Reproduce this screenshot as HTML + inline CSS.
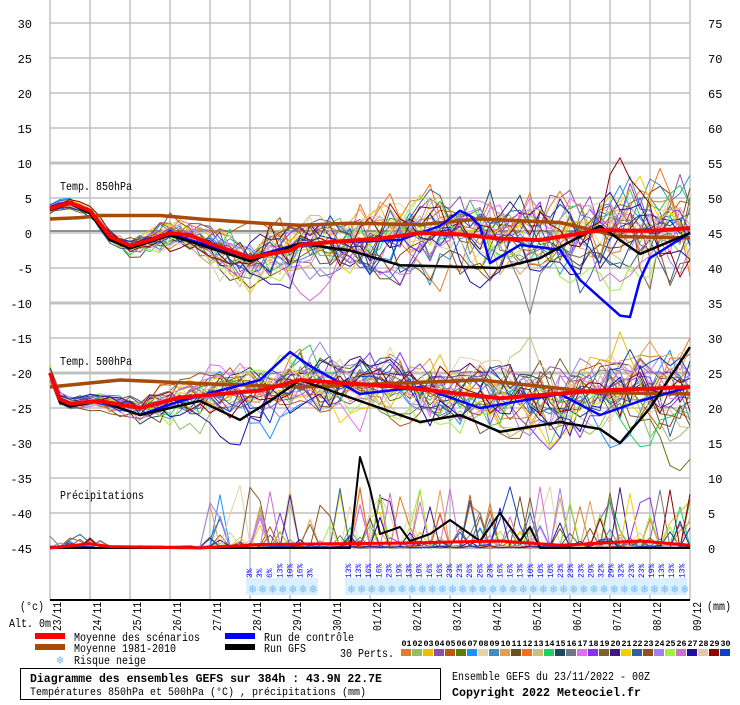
<!DOCTYPE html>
<html><head><meta charset="utf-8"><style>
body{margin:0;background:#fff;width:740px;height:700px;overflow:hidden;font-family:"Liberation Mono",monospace}
svg text{font-family:"Liberation Mono","DejaVu Sans Mono",monospace}
</style></head><body>
<svg id="s" width="740" height="700" xmlns="http://www.w3.org/2000/svg">
<rect width="740" height="700" fill="#fff"/>
<g id="grid"></g>
<g id="series"></g>
<g id="fg"></g>
</svg>
<script>
var NS="http://www.w3.org/2000/svg";
function el(p,t,a,txt){var e=document.createElementNS(NS,t);for(var k in a)e.setAttribute(k,a[k]);if(txt!=null)e.textContent=txt;p.appendChild(e);return e;}
var G=document.getElementById('grid'),S=document.getElementById('series'),F=document.getElementById('fg');
function T(x,y,fs,s,cw,extra){var a={x:x,y:y,'font-size':fs,textLength:(s.length*cw).toFixed(1),lengthAdjust:'spacingAndGlyphs'};for(var k in extra)a[k]=extra[k];return el(F,'text',a,s);}
for(var i=0;i<=16;i++){var x=50+i*40;el(G,'line',{x1:x,y1:0,x2:x,y2:600,stroke:'#c0c0c0','stroke-width':1.5});}
for(var j=0;j<=15;j++){var y=23+j*35;var v=30-5*j;var thick=(v==10||v==-10||v==-20);el(G,'line',{x1:50,y1:y,x2:690,y2:y,stroke:'#c0c0c0','stroke-width':thick?3:1.5});
 el(F,'text',{x:32,y:y+5,'font-size':12,'text-anchor':'end'},String(v));
 el(F,'text',{x:708,y:y+5,'font-size':12},String(75-5*j));}
el(G,'line',{x1:50,y1:231,x2:690,y2:231,stroke:'#909090','stroke-width':2});
el(G,'line',{x1:50,y1:600,x2:690,y2:600,stroke:'#000','stroke-width':2});
var seed=12345;function R(){seed=(seed*1103515245+12345)%2147483648;return seed/2147483648;}
function N(){return (R()+R()+R()+R()-2)*1.2;}
function interp(k,x){for(var i=0;i<k.length-1;i++){if(x<=k[i+1][0]){var t=(x-k[i][0])/(k[i+1][0]-k[i][0]);return k[i][1]+t*(k[i+1][1]-k[i][1]);}}return k[k.length-1][1];}
function Y(v){return 233-7*v;}
var xs=[];for(var i=0;i<=64;i++)xs.push(50+i*10);
function path(vals,col,w){var d='';for(var i=0;i<xs.length;i++){d+=(i?'L':'M')+xs[i]+','+Y(vals[i]).toFixed(1);}
 return el(S,'path',{d:d,stroke:col,'stroke-width':w,fill:'none','stroke-linejoin':'round'});}
var cols=["#e07b30","#8fbe63","#e8c000","#8a4fa8","#b85a10","#5a7d10","#1e90ff","#e8d0a8","#3a8ec0","#e0a050","#6b5020","#f07020","#c8c080","#20d060","#204860","#707880","#e070f0","#8a30f0","#806030","#401880","#f0d000","#3060a0","#905020","#a080f0","#a0f040","#d070d0","#2010a0","#e0c8a8","#900000","#1040c0"];
var m850=[[50,3.5],[70,4.3],[90,3.2],[110,-0.5],[130,-1.8],[150,-1],[170,0],[190,-0.3],[210,-1.5],[250,-3.5],[290,-2.5],[300,-1.7],[330,-1.3],[380,-0.8],[420,0],[460,-0.2],[500,-0.8],[540,-1],[600,0.4],[650,0.3],[690,0.7]];
var c850=[[50,2],[80,2.2],[100,2.5],[160,2.5],[200,2],[250,1.5],[300,1.1],[350,1.4],[420,1.2],[480,2],[560,1.5],[620,-0.5],[690,-0.7]];
var m500=[[50,-20],[62,-24.5],[100,-24],[140,-25],[180,-23.5],[260,-22.5],[300,-21],[400,-22],[500,-23.6],[600,-22.5],[690,-22]];
var c500=[[50,-22],[120,-21],[200,-21.5],[300,-22],[480,-21],[600,-22.8],[690,-23]];
function amp850(x){return x<100?0.6:x<250?0.6+(x-100)/150*2.6:3.2+(x-250)/440*2.4;}
function amp500(x){return x<100?0.8:x<250?0.8+(x-100)/150*2.4:3.2+(x-250)/440*1.8;}
for(var m=0;m<30;m++){
 var a=[],b=[],p=[],d1=N()*0.3,d2=N()*0.3;
 for(var i=0;i<xs.length;i++){var x=xs[i];
  d1=d1*0.72+N()*0.7*amp850(x);d2=d2*0.72+N()*0.7*amp500(x);
  a.push(interp(m850,x)+d1);b.push(interp(m500,x)+d2);
  var pv=0;if(x>=210&&R()<0.18)pv=Math.pow(R(),2)*9; else if(x>=50&&x<110&&R()<0.12)pv=R()*2; else pv=R()*0.3;
  p.push(pv-45);}
 path(p,cols[m],1);path(a,cols[m],1);path(b,cols[m],1);
}
function build(k){return xs.map(function(x){return interp(k,x);});}
path(build(c850),'#a84a08',3.5);path(build(c500),'#a84a08',3.5);
path(build([[50,3.5],[70,4.3],[90,3],[110,-0.5],[130,-2],[170,-0.2],[250,-3.5],[300,-1.5],[400,-1],[440,1],[463,3.5],[480,1],[490,-4.3],[520,-1.7],[560,-2.4],[580,-6.7],[620,-11.8],[630,-12],[645,-4],[690,0]]),'#0000ff',2.5);
path(build([[50,-20],[62,-25],[100,-24],[140,-26],[180,-24],[260,-21],[290,-17],[310,-19],[360,-23],[420,-22],[480,-25],[520,-24],[560,-23],[600,-26],[640,-24],[690,-22]]),'#0000ff',2.5);
path(build([[50,3.3],[70,4.2],[90,2.8],[110,-1],[130,-2.2],[170,-0.3],[250,-4],[300,-1.5],[350,-2.5],[400,-4.6],[450,-4.8],[500,-5],[540,-3.6],[560,-2],[600,1],[640,-3],[690,0]]),'#000',2.5);
path(build([[50,-20],[62,-25],[100,-24],[140,-26],[200,-24],[240,-26.7],[270,-24],[300,-21],[340,-23],[380,-25],[420,-27],[460,-26],[500,-28.4],[560,-27],[600,-28],[620,-30],[650,-25],[690,-16.3]]),'#000',2.5);
path(build([[50,-45],[350,-45],[355,-40],[360,-32],[365,-33],[375,-40],[380,-43],[400,-42],[410,-44],[430,-43],[450,-41],[480,-44],[500,-40],[520,-44],[530,-42],[540,-45],[690,-45]]),'#000',2);
path(build(m850),'#ff0000',4);path(build(m500),'#ff0000',4);
path(build([[50,-45],[90,-44.4],[110,-44.8],[200,-45],[260,-44.5],[400,-44.3],[500,-44],[560,-44.6],[640,-44],[690,-44.6]]),'#ff0000',3);
T(60,190,12,'Temp. 850hPa',6);
T(60,365,12,'Temp. 500hPa',6);
T(60,499,12,'Précipitations',6);
function snow(xa,lab){el(F,'rect',{x:xa-3,y:578,width:lab.length*10+2,height:17,fill:'#d8f0ff'});
 lab.forEach(function(l,i){var x=xa+i*10.1;
  el(F,'text',{x:0,y:0,'font-size':8,fill:'#0000ff',transform:'translate('+(x+3)+',578) rotate(-90)'},l+'%');
  el(F,'text',{x:x+3.5,y:593,'font-size':12,fill:'#7ab8f0','text-anchor':'middle'},'❄');});}
snow(249,['3','3','6','13','10','16','3']);
snow(348,['13','13','16','16','23','19','13','10','16','16','23','23','26','26','23','16','16','13','10','10','10','23','23','23','29','32','29','32','23','23','19','13','13','13']);
var dates=['23/11','24/11','25/11','26/11','27/11','28/11','29/11','30/11','01/12','02/12','03/12','04/12','05/12','06/12','07/12','08/12','09/12'];
dates.forEach(function(d,i){var x=50+i*40;el(F,'text',{x:0,y:0,'font-size':12,textLength:29,lengthAdjust:'spacingAndGlyphs',transform:'translate('+(x+11)+',631) rotate(-90)'},d);});
T(20,610,12,'(°c)',6);
T(9,627,12,'Alt. 0m',6);
T(707,610,12,'(mm)',6);
el(F,'rect',{x:35,y:633,width:30,height:6,fill:'#ff0000'});
el(F,'rect',{x:35,y:644,width:30,height:6,fill:'#a84a08'});
el(F,'rect',{x:225,y:633,width:30,height:6,fill:'#0000ff'});
el(F,'rect',{x:225,y:644,width:30,height:6,fill:'#000'});
T(74,641,12,'Moyenne des scénarios',6);
T(74,652,12,'Moyenne 1981-2010',6);
T(74,664,12,'Risque neige',6);
el(F,'text',{x:60,y:664,'font-size':12,fill:'#7ab8f0','text-anchor':'middle'},'❄');
T(264,641,12,'Run de contrôle',6);
T(264,652,12,'Run GFS',6);
T(340,657,12,'30 Perts.',6);
for(var i=0;i<30;i++){var x=401+i*11;var n=(i<9?'0':'')+(i+1);
 el(F,'text',{x:x+5.5,y:646,'font-size':8,'text-anchor':'middle','font-weight':'bold',textLength:10,lengthAdjust:'spacingAndGlyphs'},n);
 el(F,'rect',{x:x,y:649,width:10,height:7,fill:cols[i]});}
el(F,'rect',{x:20.5,y:668.5,width:420,height:31,fill:'none',stroke:'#000','stroke-width':1});
T(30,682,12,'Diagramme des ensembles GEFS sur 384h : 43.9N 22.7E',6.9,{'font-weight':'bold'});
T(30,695,11,'Températures 850hPa et 500hPa (°C) , précipitations (mm)',6);
T(452,680,12,'Ensemble GEFS du 23/11/2022 - 00Z',6);
T(452,696,12,'Copyright 2022 Meteociel.fr',7,{'font-weight':'bold'});
</script>
</body></html>
